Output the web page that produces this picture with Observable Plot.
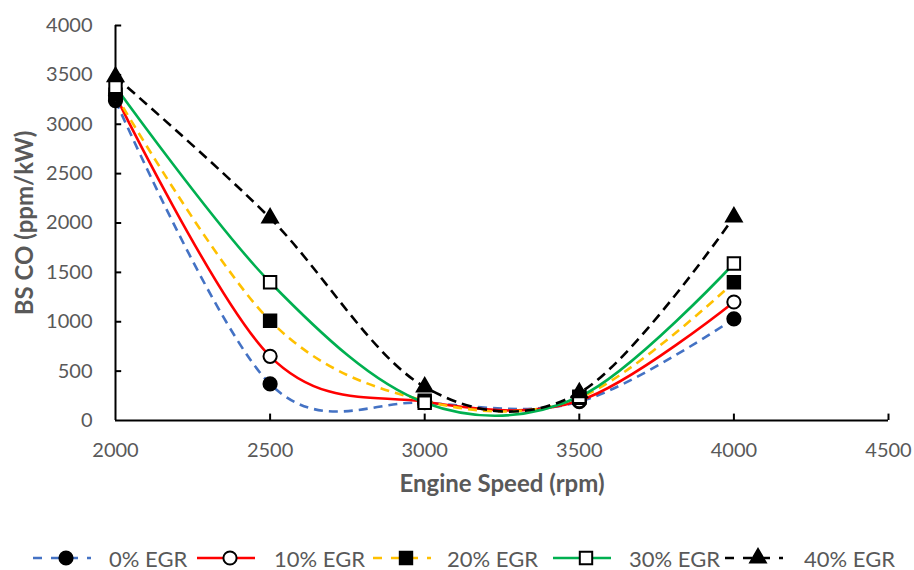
<!DOCTYPE html>
<html>
<head>
<meta charset="utf-8">
<script src="https://cdn.jsdelivr.net/npm/d3@7"></script>
<script src="https://cdn.jsdelivr.net/npm/@observablehq/plot@0.6"></script>
<style>
  html, body { margin: 0; padding: 0; background: #fff; }
  #wrap { position: relative; width: 914px; height: 570px; font-family: Lato, "Open Sans", sans-serif; }
  #legend { position: absolute; left: 0; top: 543px; width: 914px; height: 30px; }
  .item { position: absolute; top: 0; height: 30px; display: flex; align-items: center; }
  .item span { font-size: 22px; color: #595959; margin-left: 0; }
</style>
</head>
<body>
<div id="wrap"><div id="chart"></div><div id="legend"></div></div>
<script>
const speeds = [2000, 2500, 3000, 3500, 4000];
const seriesNames = ["0% EGR", "10% EGR", "20% EGR", "30% EGR", "40% EGR"];
const egr0  = [3240, 370, 180, 190, 1030];
const egr10 = [3290, 650, 190, 200, 1200];
const egr20 = [3300, 1010, 200, 230, 1400];
const egr30 = [3380, 1400, 180, 240, 1590];
const egr40 = [3480, 2050, 340, 280, 2060];
const xTicks = [2000, 2500, 3000, 3500, 4000, 4500];
const yTicks = [0, 500, 1000, 1500, 2000, 2500, 3000, 3500, 4000];

const colors = ["#4472C4", "#FF0000", "#FFC000", "#00B050", "#000000"];
const dashes = ["9,6", null, "9,6", null, "10,6"];
const symbols = ["circle", "circle", "square", "square", "triangle"];
const fills = ["black", "white", "black", "white", "black"];
const allValues = [egr0, egr10, egr20, egr30, egr40];

const series = seriesNames.map((name, i) => ({
  name, color: colors[i], dash: dashes[i], symbol: symbols[i], fill: fills[i],
  data: speeds.map((s, j) => ({speed: s, value: allValues[i][j], name}))
}));
const symR = s => s === "triangle" ? 5.8 : s === "square" ? 7 : 6.6;

const marks = [];
marks.push(Plot.ruleY([0], {stroke: "#000", strokeWidth: 2}));
marks.push(Plot.ruleX([2000], {stroke: "#000", strokeWidth: 2}));
marks.push(Plot.ruleX(xTicks.slice(1), {y1: 0, y2: 65, stroke: "#000", strokeWidth: 2}));
marks.push(Plot.ruleY(yTicks.slice(1), {x1: 2000, x2: 2020, stroke: "#000", strokeWidth: 2}));
for (const s of series) {
  marks.push(Plot.line(s.data, {x: "speed", y: "value", curve: "cardinal", stroke: s.color, strokeWidth: 2.6,
    strokeDasharray: s.dash || undefined, strokeLinecap: s.dash ? "butt" : "round"}));
}
for (const s of series) {
  marks.push(Plot.dot(s.data, {x: "speed", y: "value", symbol: () => s.symbol, r: symR(s.symbol),
    fill: s.fill, stroke: "#000", strokeWidth: 2}));
}
marks.push(Plot.axisX({ticks: xTicks, tickSize: 0, tickPadding: 22, tickFormat: d => String(d), label: null, fontSize: 20, color: "#595959"}));
marks.push(Plot.axisY({ticks: yTicks, tickSize: 0, tickPadding: 23, tickFormat: d => String(d), label: null, fontSize: 20, color: "#595959"}));
marks.push(Plot.text(["Engine Speed (rpm)"], {frameAnchor: "bottom", textAnchor: "middle", dy: 71, text: d => d, fontSize: 24, fontWeight: "bold", fill: "#595959"}));
marks.push(Plot.text(["BS CO (ppm/kW)"], {frameAnchor: "left", textAnchor: "middle", dx: -90, rotate: -90, text: d => d, fontSize: 24, fontWeight: "bold", fill: "#595959"}));

const chart = Plot.plot({
  width: 914, height: 520,
  marginLeft: 115, marginRight: 26, marginTop: 25, marginBottom: 100,
  style: {fontFamily: "Lato, 'Open Sans', sans-serif", background: "white", overflow: "visible"},
  x: {domain: [2000, 4500]},
  y: {domain: [0, 4000]},
  clip: false,
  marks
});
document.getElementById("chart").appendChild(chart);

const sampleLeft = [33, 197, 373, 553, 725];
const textLeft = [109, 274, 447, 629, 804];
const legend = d3.select("#legend");
series.forEach((s, i) => {
  const w = textLeft[i] - sampleLeft[i];
  const item = legend.append("div").attr("class", "item").style("left", sampleLeft[i] + "px");
  const svg = item.append("svg").attr("width", w).attr("height", 30);
  const lineW = 58;
  svg.append("line").attr("x1", 0).attr("x2", lineW).attr("y1", 15).attr("y2", 15)
    .attr("stroke", s.color).attr("stroke-width", 2.6)
    .attr("stroke-dasharray", s.dash ? "9,9" : null);
  const symType = s.symbol === "circle" ? d3.symbolCircle : s.symbol === "square" ? d3.symbolSquare : d3.symbolTriangle;
  const r = symR(s.symbol);
  svg.append("path").attr("d", d3.symbol(symType, Math.PI * r * r)()).attr("transform", `translate(${lineW / 2 + 4},15)`)
    .attr("fill", s.fill).attr("stroke", "#000").attr("stroke-width", 2);
  item.append("span").text(s.name);
});
</script>
</body>
</html>
